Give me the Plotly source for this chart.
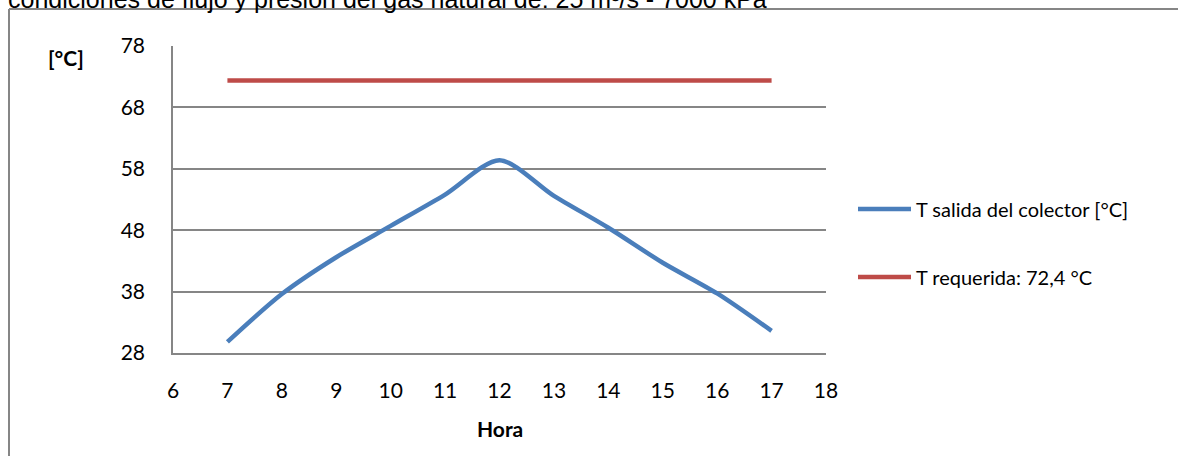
import plotly.graph_objects as go

# Hourly collector outlet temperature and the required temperature
horas = [7, 8, 9, 10, 11, 12, 13, 14, 15, 16, 17]
t_salida = [29.8, 37.6, 43.6, 48.7, 53.8, 59.4, 53.6, 48.4, 42.7, 37.7, 31.6]
t_requerida = [72.4] * len(horas)

x_ticks = list(range(6, 19))
y_ticks = [28, 38, 48, 58, 68, 78]

serie_salida = "T salida del colector [°C]"
serie_requerida = "T requerida: 72,4 °C"
titulo = "condiciones de flujo y presión del gas natural de: 25 m³/s - 7000 kPa"

W, H = 1178, 456
L, R, T, B = 173, 826, 46, 353   # plot area in pixels

def xp(px):
    return (px - L) / (R - L)

def yp(py):
    return (B - py) / (B - T)

AZUL = "#4A7EBB"
ROJO = "#BE4B48"
GRIS = "#868686"
FUENTE = "Lato"

fig = go.Figure()
fig.add_trace(go.Scatter(
    x=horas, y=t_salida, mode="lines", name=serie_salida,
    line=dict(color=AZUL, width=4.5, shape="spline", smoothing=0.8),
    showlegend=False,
))
fig.add_trace(go.Scatter(
    x=horas, y=t_requerida, mode="lines", name=serie_requerida,
    line=dict(color=ROJO, width=4.5),
    showlegend=False,
))

fig.update_xaxes(
    range=[6, 18], tickvals=x_ticks, ticktext=[str(v) for v in x_ticks],
    showgrid=False, zeroline=False,
    showline=True, linecolor=GRIS, linewidth=1.5,
    ticks="", ticklabelstandoff=18,
    tickfont=dict(family=FUENTE, size=21, color="#000000"),
)
fig.update_yaxes(
    range=[28, 78], tickvals=y_ticks, ticktext=[str(v) for v in y_ticks],
    showgrid=True, gridcolor=GRIS, gridwidth=1.5, zeroline=False,
    showline=True, linecolor=GRIS, linewidth=1.5,
    ticks="", ticklabelstandoff=22,
    tickfont=dict(family=FUENTE, size=21, color="#000000"),
)

shapes = [
    # chart frame (top and left edges)
    dict(type="line", xref="paper", yref="paper", x0=xp(9), x1=xp(1190),
         y0=yp(9), y1=yp(9), line=dict(color=GRIS, width=2)),
    dict(type="line", xref="paper", yref="paper", x0=xp(9), x1=xp(9),
         y0=yp(9), y1=yp(470), line=dict(color=GRIS, width=2)),
    # legend samples
    dict(type="line", xref="paper", yref="paper", x0=xp(858), x1=xp(911),
         y0=yp(209), y1=yp(209), line=dict(color=AZUL, width=4.5)),
    dict(type="line", xref="paper", yref="paper", x0=xp(858), x1=xp(911),
         y0=yp(277), y1=yp(277), line=dict(color=ROJO, width=4.5)),
]

annotations = [
    dict(text=titulo, xref="paper", yref="paper", x=xp(6), y=yp(15),
         xanchor="left", yanchor="bottom", showarrow=False,
         font=dict(family="Liberation Sans", size=25, color="#000000")),
    dict(text="<b>[°C]</b>", xref="paper", yref="paper", x=xp(66), y=yp(57),
         xanchor="center", yanchor="middle", showarrow=False,
         font=dict(family=FUENTE, size=21, color="#000000")),
    dict(text="<b>Hora</b>", xref="paper", yref="paper", x=xp(500), y=yp(428),
         xanchor="center", yanchor="middle", showarrow=False,
         font=dict(family=FUENTE, size=21, color="#000000")),
    dict(text=serie_salida, xref="paper", yref="paper", x=xp(914), y=yp(209),
         xanchor="left", yanchor="middle", showarrow=False,
         font=dict(family=FUENTE, size=20, color="#000000")),
    dict(text=serie_requerida, xref="paper", yref="paper", x=xp(914), y=yp(277),
         xanchor="left", yanchor="middle", showarrow=False,
         font=dict(family=FUENTE, size=20, color="#000000")),
]

fig.update_layout(
    width=W, height=H,
    margin=dict(l=L, r=W - R, t=T, b=H - B, pad=0),
    plot_bgcolor="#FFFFFF", paper_bgcolor="#FFFFFF",
    shapes=shapes, annotations=annotations,
    showlegend=False,
)

fig.write_html("out.html")
